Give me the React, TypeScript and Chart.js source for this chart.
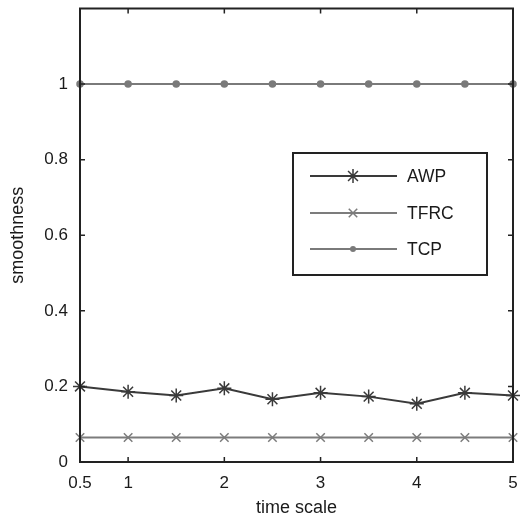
import React, { useEffect, useRef } from 'react';
import { Chart, registerables } from 'chart.js';

Chart.register(...registerables);

const timeScale = [0.5, 1, 1.5, 2, 2.5, 3, 3.5, 4, 4.5, 5];
const awpValues = [0.2, 0.186, 0.176, 0.195, 0.166, 0.183, 0.173, 0.154, 0.183, 0.176];
const tfrcValues = [0.065, 0.065, 0.065, 0.065, 0.065, 0.065, 0.065, 0.065, 0.065, 0.065];
const tcpValues = [1, 1, 1, 1, 1, 1, 1, 1, 1, 1];
const xTickValues = [0.5, 1, 2, 3, 4, 5];
const yTickValues = [0, 0.2, 0.4, 0.6, 0.8, 1];
const seriesNames = ['AWP', 'TFRC', 'TCP'];
const xTitle = 'time scale';
const yTitle = 'smoothness';

const FONT = '"Liberation Sans", Arial, Helvetica, sans-serif';
const FRAME = '#222222';
const AWP_COLOR = '#3a3a3a';
const TFRC_COLOR = '#7c7c7c';
const TCP_COLOR = '#7a7a7a';

const styles = [
  { color: AWP_COLOR, point: 'star', radius: 7 },
  { color: TFRC_COLOR, point: 'crossRot', radius: 6 },
  { color: TCP_COLOR, point: 'circle', radius: 3 },
];

function drawMarker(ctx: CanvasRenderingContext2D, style: string, x: number, y: number, r: number, color: string) {
  ctx.save();
  ctx.strokeStyle = color;
  ctx.fillStyle = color;
  ctx.lineWidth = 1.5;
  ctx.beginPath();
  if (style === 'circle') {
    ctx.arc(x, y, r, 0, Math.PI * 2);
    ctx.fill();
  } else {
    const d = r * Math.SQRT1_2;
    if (style === 'star') {
      ctx.moveTo(x - r, y); ctx.lineTo(x + r, y);
      ctx.moveTo(x, y - r); ctx.lineTo(x, y + r);
    }
    ctx.moveTo(x - d, y - d); ctx.lineTo(x + d, y + d);
    ctx.moveTo(x - d, y + d); ctx.lineTo(x + d, y - d);
    ctx.stroke();
  }
  ctx.restore();
}

const framePlugin = {
  id: 'frameAndLegend',
  afterDraw(chart: any) {
    const { ctx, chartArea } = chart;
    const { left, right, top, bottom } = chartArea;
    const xs = chart.scales.x;
    const ys = chart.scales.y;
    ctx.save();
    ctx.strokeStyle = FRAME;
    ctx.lineWidth = 2;
    ctx.strokeRect(left, top, right - left, bottom - top);
    ctx.lineWidth = 1.5;
    const tl = 5;
    ctx.beginPath();
    xTickValues.forEach((v) => {
      const px = xs.getPixelForValue(v);
      ctx.moveTo(px, bottom); ctx.lineTo(px, bottom - tl);
      ctx.moveTo(px, top); ctx.lineTo(px, top + tl);
    });
    yTickValues.forEach((v) => {
      const py = ys.getPixelForValue(v);
      ctx.moveTo(left, py); ctx.lineTo(left + tl, py);
      ctx.moveTo(right, py); ctx.lineTo(right - tl, py);
    });
    ctx.stroke();

    // legend box
    const bx = 293, by = 153, bw = 194, bh = 122;
    ctx.fillStyle = '#ffffff';
    ctx.fillRect(bx, by, bw, bh);
    ctx.strokeStyle = FRAME;
    ctx.lineWidth = 2;
    ctx.strokeRect(bx, by, bw, bh);
    const rows = [176, 213, 249];
    ctx.font = `17.5px ${FONT}`;
    ctx.textBaseline = 'middle';
    ctx.textAlign = 'left';
    seriesNames.forEach((name, i) => {
      const st = styles[i];
      const y = rows[i];
      ctx.strokeStyle = st.color;
      ctx.lineWidth = 2;
      ctx.beginPath();
      ctx.moveTo(310, y); ctx.lineTo(397, y);
      ctx.stroke();
      drawMarker(ctx, st.point, 353, y, st.radius, st.color);
      ctx.fillStyle = '#1a1a1a';
      ctx.fillText(name, 407, y + 1);
    });
    ctx.restore();
  },
};

export default function App() {
  const ref = useRef<HTMLCanvasElement | null>(null);
  useEffect(() => {
    if (!ref.current) return;
    const series = [awpValues, tfrcValues, tcpValues];
    const chart = new Chart(ref.current, {
      type: 'line',
      data: {
        datasets: series.map((vals, i) => ({
          label: seriesNames[i],
          data: timeScale.map((x, j) => ({ x, y: vals[j] })),
          borderColor: styles[i].color,
          backgroundColor: styles[i].color,
          borderWidth: 2,
          pointStyle: styles[i].point as any,
          pointRadius: styles[i].radius,
          pointBorderWidth: 1.5,
          pointBorderColor: styles[i].color,
          pointBackgroundColor: styles[i].color,
          tension: 0,
          fill: false,
          clip: false as any,
        })),
      },
      options: {
        animation: false,
        responsive: false,
        layout: { padding: { top: 5, right: 15, left: 0, bottom: 0 } },
        plugins: { legend: { display: false }, tooltip: { enabled: false } },
        scales: {
          x: {
            type: 'linear',
            min: 0.5,
            max: 5,
            grid: { display: false, drawTicks: false },
            border: { display: false },
            afterBuildTicks: (s: any) => { s.ticks = xTickValues.map((v) => ({ value: v })); },
            afterFit: (s: any) => { s.height = 62; s.paddingLeft = 0; s.paddingRight = 0; },
            ticks: {
              padding: 11,
              maxRotation: 0,
              autoSkip: false,
              color: '#1a1a1a',
              font: { family: FONT, size: 17 },
              callback: (v: any) => String(v),
            },
            title: {
              display: true,
              text: xTitle,
              color: '#1a1a1a',
              font: { family: FONT, size: 18 },
              padding: { top: 0, bottom: 5 },
            },
          },
          y: {
            type: 'linear',
            min: 0,
            max: 1.2,
            grid: { display: false, drawTicks: false },
            border: { display: false },
            afterBuildTicks: (s: any) => { s.ticks = yTickValues.map((v) => ({ value: v })); },
            afterFit: (s: any) => { s.width = 80; s.paddingTop = 0; s.paddingBottom = 0; },
            ticks: {
              padding: 12,
              autoSkip: false,
              color: '#1a1a1a',
              font: { family: FONT, size: 17 },
              callback: (v: any) => String(v),
            },
            title: {
              display: true,
              text: yTitle,
              color: '#1a1a1a',
              font: { family: FONT, size: 18 },
              padding: { top: 7, bottom: 0 },
            },
          },
        },
      },
      plugins: [framePlugin],
    });
    return () => chart.destroy();
  }, []);
  return (
    <div style={{ position: 'absolute', left: 0, top: 0, width: 528, height: 524, background: '#fff' }}>
      <canvas ref={ref} width={528} height={524} />
    </div>
  );
}
